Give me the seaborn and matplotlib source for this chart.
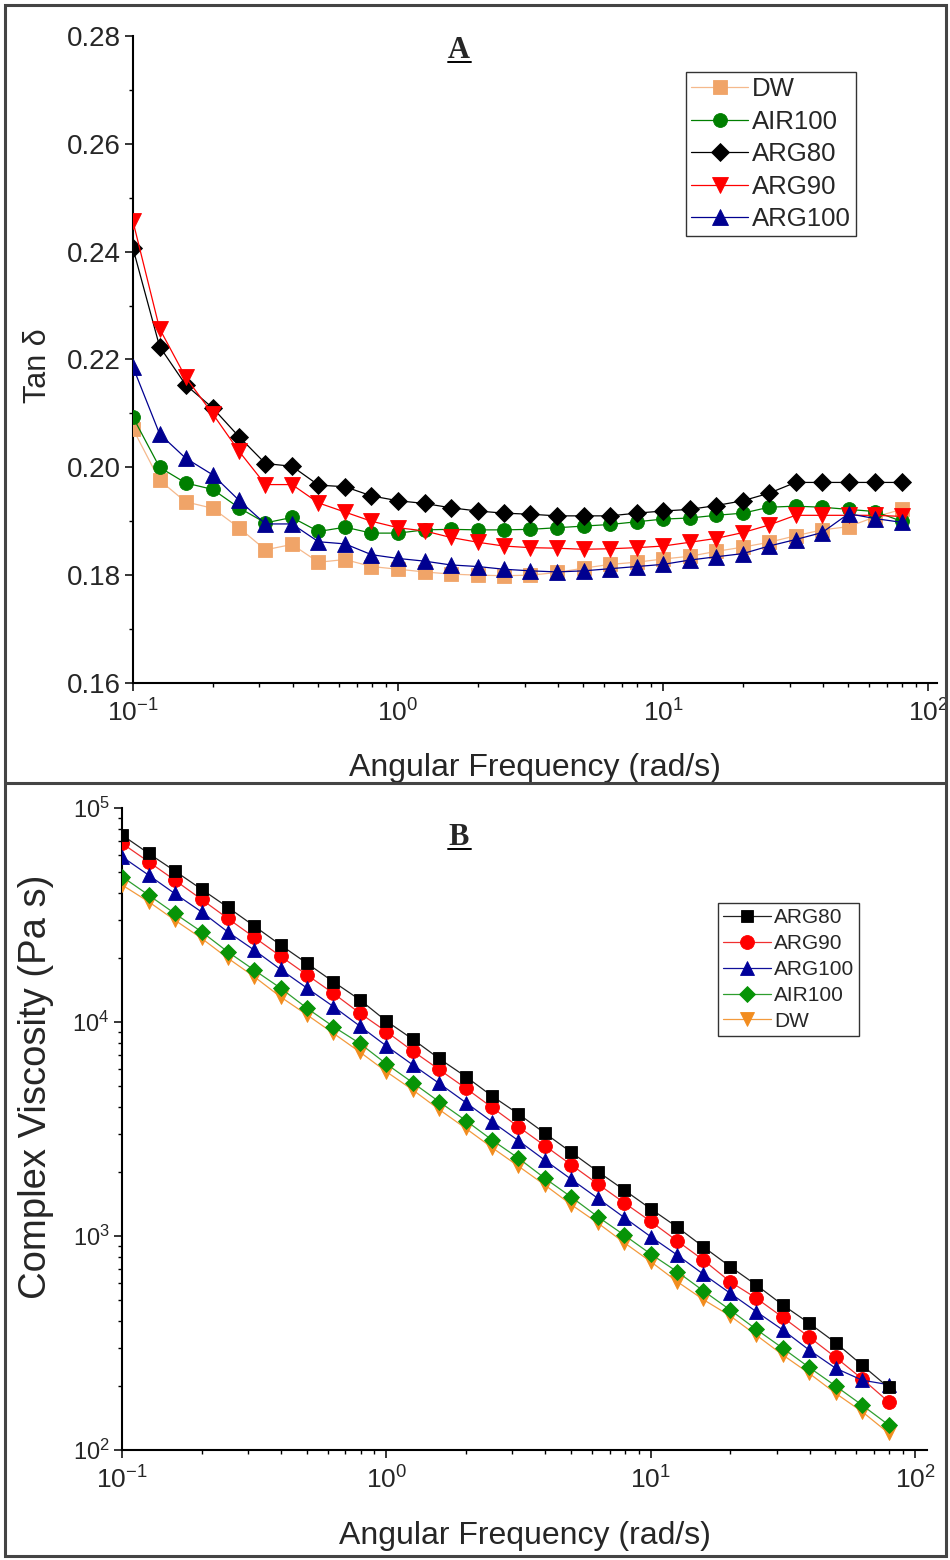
import matplotlib
matplotlib.use("Agg")
import matplotlib.pyplot as plt
import seaborn as sns
from matplotlib.lines import Line2D
from matplotlib.patches import Rectangle
from matplotlib.ticker import MultipleLocator, LogLocator, NullFormatter, FormatStrFormatter

# ---------------- data ----------------
freq = [0.1, 0.126, 0.158, 0.2, 0.251, 0.316, 0.398, 0.501, 0.631, 0.794,
        1.0, 1.26, 1.58, 2.0, 2.51, 3.16, 3.98, 5.01, 6.31, 7.94,
        10.0, 12.6, 15.8, 20.0, 25.1, 31.6, 39.8, 50.1, 63.1, 79.4]

# Panel A: Tan delta
tan_DW = [0.2071, 0.1976, 0.1936, 0.1924, 0.1888, 0.1847, 0.1857, 0.1824, 0.1829, 0.1816,
          0.1811, 0.1806, 0.1802, 0.1800, 0.1799, 0.1800, 0.1805, 0.1813, 0.1820, 0.1824,
          0.1830, 0.1835, 0.1844, 0.1852, 0.1861, 0.1873, 0.1884, 0.1890, 0.1908, 0.1922]
tan_AIR100 = [0.2093, 0.2000, 0.1971, 0.1959, 0.1925, 0.1897, 0.1907, 0.1881, 0.1889, 0.1878,
              0.1878, 0.1884, 0.1885, 0.1884, 0.1884, 0.1885, 0.1888, 0.1891, 0.1894, 0.1899,
              0.1904, 0.1906, 0.1911, 0.1915, 0.1926, 0.1928, 0.1926, 0.1922, 0.1918, 0.1900]
tan_ARG80 = [0.2406, 0.2224, 0.2153, 0.2110, 0.2057, 0.2007, 0.2002, 0.1967, 0.1964, 0.1947,
             0.1938, 0.1933, 0.1925, 0.1919, 0.1915, 0.1913, 0.1910, 0.1910, 0.1910, 0.1915,
             0.1919, 0.1922, 0.1929, 0.1938, 0.1952, 0.1972, 0.1972, 0.1972, 0.1972, 0.1972]
tan_ARG90 = [0.2456, 0.2257, 0.2167, 0.2099, 0.2030, 0.1968, 0.1968, 0.1934, 0.1917, 0.1900,
             0.1888, 0.1882, 0.1870, 0.1861, 0.1854, 0.1851, 0.1850, 0.1848, 0.1849, 0.1851,
             0.1854, 0.1861, 0.1868, 0.1879, 0.1893, 0.1911, 0.1911, 0.1911, 0.1911, 0.1909]
tan_ARG100 = [0.2186, 0.2062, 0.2017, 0.1986, 0.1939, 0.1895, 0.1895, 0.1862, 0.1858, 0.1838,
              0.1831, 0.1826, 0.1819, 0.1816, 0.1811, 0.1808, 0.1806, 0.1808, 0.1812, 0.1816,
              0.1820, 0.1828, 0.1834, 0.1840, 0.1854, 0.1866, 0.1879, 0.1914, 0.1905, 0.1898]

# Panel B: complex viscosity (Pa s)
visc_ARG80 = [74800, 61400, 50900, 41700, 34400, 28100, 22900, 18800, 15400, 12700,
              10100, 8300, 6760, 5550, 4510, 3720, 3020, 2460, 2000, 1640,
              1340, 1100, 891, 719, 590, 476, 391, 317, 249, 196]
visc_ARG90 = [68400, 56100, 46100, 37400, 30500, 24900, 20300, 16600, 13600, 11000,
              9020, 7310, 6010, 4900, 3990, 3240, 2640, 2150, 1750, 1430,
              1170, 948, 773, 611, 512, 417, 337, 271, 215, 168]
visc_ARG100 = [59200, 48600, 39900, 32700, 26400, 21700, 17600, 14400, 11800, 9570,
               7730, 6300, 5180, 4200, 3420, 2790, 2260, 1840, 1500, 1220,
               993, 815, 664, 540, 443, 364, 293, 241, 212, 202]
visc_AIR100 = [47800, 39200, 32200, 26400, 21300, 17500, 14400, 11600, 9510, 7940,
               6370, 5200, 4250, 3460, 2810, 2310, 1860, 1520, 1230, 1010,
               824, 681, 555, 451, 366, 299, 243, 199, 162, 131]
visc_DW = [43700, 36500, 30000, 24600, 19900, 16300, 13100, 10800, 8850, 7240,
           5860, 4810, 3910, 3180, 2590, 2120, 1730, 1400, 1150, 931,
           759, 612, 505, 423, 344, 278, 228, 184, 151, 120]

labels_A = ["DW", "AIR100", "ARG80", "ARG90", "ARG100"]
labels_B = ["ARG80", "ARG90", "ARG100", "AIR100", "DW"]

# ---------------- style ----------------
sns.set_style("ticks")
plt.rcParams['font.family'] = ['Liberation Sans', 'DejaVu Sans']
plt.rcParams['mathtext.fontset'] = 'custom'
plt.rcParams['mathtext.rm'] = 'Liberation Sans'
plt.rcParams['mathtext.it'] = 'Liberation Sans:italic'
plt.rcParams['mathtext.bf'] = 'Liberation Sans:bold'
plt.rcParams['axes.unicode_minus'] = True

W, H = 950, 1560
fig = plt.figure(figsize=(W / 100, H / 100), dpi=100, facecolor='white')


def px_axes(left, top, right, bottom):
    return fig.add_axes([left / W, 1 - bottom / H, (right - left) / W, (bottom - top) / H])


def style_axes(ax):
    for s in ['top', 'right']:
        ax.spines[s].set_visible(False)
    for s in ['left', 'bottom']:
        ax.spines[s].set_linewidth(1.5)
        ax.spines[s].set_color('black')
    ax.tick_params(which='major', direction='out', length=6, width=1.1, color='black')
    ax.tick_params(which='minor', direction='out', length=3, width=1.0, color='black')
    ax.set_facecolor('white')


def draw(ax, y, lc, mc, marker, ms, z):
    sns.lineplot(x=freq, y=y, ax=ax, color=lc, marker=marker, markersize=ms,
                 markerfacecolor=mc, markeredgecolor=mc, markeredgewidth=0.6,
                 linewidth=0.9, estimator=None, sort=False, legend=False, zorder=z)
    return Line2D([], [], color=lc, marker=marker, markersize=ms, markerfacecolor=mc,
                  markeredgecolor=mc, markeredgewidth=0.6, linewidth=0.9)


# ---------------- Panel A ----------------
axA = px_axes(133, 36, 937, 683)
style_axes(axA)
hA = {}
hA["DW"] = draw(axA, tan_DW, '#F5B98C', '#F0A468', 's', 9.5, 3)
hA["AIR100"] = draw(axA, tan_AIR100, '#007F00', '#007F00', 'o', 10, 4)
hA["ARG80"] = draw(axA, tan_ARG80, '#000000', '#000000', 'D', 9, 5)
hA["ARG90"] = draw(axA, tan_ARG90, '#FF0000', '#FF0000', 'v', 11, 6)
hA["ARG100"] = draw(axA, tan_ARG100, '#000090', '#000090', '^', 11, 7)
axA.set_xscale('log')
axA.set_xlim(0.1, 108)
axA.set_ylim(0.16, 0.28)
axA.yaxis.set_major_locator(MultipleLocator(0.02))
axA.yaxis.set_minor_locator(MultipleLocator(0.01))
axA.yaxis.set_major_formatter(FormatStrFormatter('%.2f'))
axA.xaxis.set_major_locator(LogLocator(base=10, numticks=10))
axA.xaxis.set_minor_locator(LogLocator(base=10, subs=range(2, 10), numticks=20))
axA.xaxis.set_minor_formatter(NullFormatter())
axA.tick_params(axis='y', labelsize=20, pad=3)
axA.tick_params(axis='x', labelsize=19, pad=6)
axA.set_xlabel("Angular Frequency (rad/s)", fontsize=23)
axA.set_ylabel("Tan δ", fontsize=22)
axA.xaxis.set_label_coords(0.5, -0.108)
axA.yaxis.set_label_coords(-0.100, 0.49)
legA = axA.legend([hA[k] for k in labels_A], labels_A, loc='upper left',
                  bbox_to_anchor=(0.688, 0.944), borderaxespad=0, fontsize=18.5,
                  frameon=True, fancybox=False, framealpha=1, edgecolor='#333333',
                  handlelength=2.2, handletextpad=0.15, labelspacing=0.33,
                  borderpad=0.2)
legA.get_frame().set_linewidth(1.0)

# ---------------- Panel B ----------------
axB = px_axes(122, 808, 927, 1450)
style_axes(axB)
hB = {}
hB["DW"] = draw(axB, visc_DW, '#F39A3C', '#F28C1E', 'v', 10, 3)
hB["AIR100"] = draw(axB, visc_AIR100, '#2E9E2E', '#079407', 'D', 8.5, 4)
hB["ARG90"] = draw(axB, visc_ARG90, '#F03030', '#FF0000', 'o', 10, 5)
hB["ARG100"] = draw(axB, visc_ARG100, '#10109A', '#00009A', '^', 10, 6)
hB["ARG80"] = draw(axB, visc_ARG80, '#222222', '#000000', 's', 9, 7)
axB.set_xscale('log')
axB.set_yscale('log')
axB.set_xlim(0.1, 111)
axB.set_ylim(100, 1e5)
axB.xaxis.set_major_locator(LogLocator(base=10, numticks=10))
axB.xaxis.set_minor_locator(LogLocator(base=10, subs=range(2, 10), numticks=20))
axB.xaxis.set_minor_formatter(NullFormatter())
axB.yaxis.set_major_locator(LogLocator(base=10, numticks=10))
axB.yaxis.set_minor_locator(LogLocator(base=10, subs=range(2, 10), numticks=20))
axB.yaxis.set_minor_formatter(NullFormatter())
axB.tick_params(axis='y', labelsize=17, pad=3)
axB.tick_params(axis='x', labelsize=19, pad=6)
axB.set_xlabel("Angular Frequency (rad/s)", fontsize=23)
axB.set_ylabel("Complex Viscosity (Pa s)", fontsize=27.5)
axB.xaxis.set_label_coords(0.5, -0.110)
axB.yaxis.set_label_coords(-0.084, 0.565)
legB = axB.legend([hB[k] for k in labels_B], labels_B, loc='upper left',
                  bbox_to_anchor=(0.740, 0.852), borderaxespad=0, fontsize=15,
                  frameon=True, fancybox=False, framealpha=1, edgecolor='#333333',
                  handlelength=2.3, handletextpad=0.15, labelspacing=0.33,
                  borderpad=0.25)
legB.get_frame().set_linewidth(1.0)

# ---------------- panel letters ----------------
for letter, base_y, ul_y in [("A", 58, 62), ("B", 845, 849)]:
    fig.text(459 / W, 1 - base_y / H, letter, fontfamily='Liberation Serif',
             fontweight='bold', fontsize=22, ha='center', va='baseline')
    fig.add_artist(Line2D([448 / W, 471 / W], [1 - ul_y / H, 1 - ul_y / H],
                          color='black', linewidth=1.4, transform=fig.transFigure))

# ---------------- panel frames ----------------
border_col = '#444444'
fig.add_artist(Rectangle((5 / W, 1 - 1556 / H), (946 - 5) / W, (1556 - 5) / H,
                         transform=fig.transFigure, fill=False, edgecolor=border_col,
                         linewidth=2.2))
fig.add_artist(Line2D([5 / W, 946 / W], [1 - 783 / H, 1 - 783 / H], color=border_col,
                      linewidth=2.2, transform=fig.transFigure))

fig.savefig("out.png", dpi=100, facecolor='white')
